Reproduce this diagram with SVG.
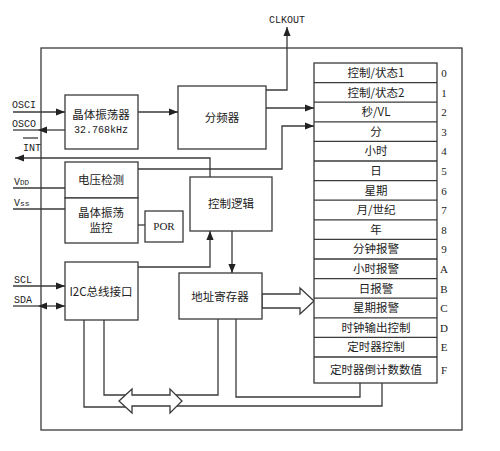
<svg xmlns="http://www.w3.org/2000/svg" width="500" height="451" viewBox="0 0 500 451">
<defs>
<marker id="ah" viewBox="0 0 10 8" refX="10" refY="4" markerWidth="9" markerHeight="8" markerUnits="userSpaceOnUse" orient="auto-start-reverse">
<path d="M0,0 L10,4 L0,8 Z" fill="#222"/>
</marker>
<style>
.b{fill:#fff;stroke:#3a3a3a;stroke-width:1.3}
.l{fill:none;stroke:#3a3a3a;stroke-width:1.3}
.cn{font-family:"Noto Sans CJK SC","Noto Sans",sans-serif;font-size:11.5px;fill:#222;text-anchor:middle}
.m{font-family:"Liberation Mono",monospace;font-size:10px;fill:#222}
.n{font-family:"Liberation Serif",serif;font-size:11px;fill:#222;text-anchor:middle}
</style>
</defs>
<rect width="500" height="451" fill="#fff"/>
<g id="chip"><rect x="41" y="48" width="421" height="382" class="b"/></g>

<g id="connectors">
<line x1="13" y1="112" x2="65" y2="112" class="l" marker-end="url(#ah)"/>
<line x1="65" y1="130" x2="38" y2="130" class="l" marker-end="url(#ah)"/>
<line x1="38" y1="130" x2="13" y2="130" class="l"/>
<line x1="138" y1="112" x2="178" y2="112" class="l" marker-end="url(#ah)"/>
<polyline points="266,90 287,90 287,27" class="l" marker-end="url(#ah)"/>
<line x1="266" y1="108" x2="314" y2="108" class="l" marker-end="url(#ah)"/>
<polyline points="138,169 282,169 282,126 314,126" class="l" marker-end="url(#ah)"/>
<polyline points="210,177 210,158 15,158" class="l" marker-end="url(#ah)"/>
<line x1="13" y1="188" x2="65" y2="188" class="l"/>
<line x1="13" y1="209" x2="65" y2="209" class="l"/>
<line x1="138" y1="225" x2="145" y2="225" class="l"/>
<polyline points="138,267 210,267 210,231" class="l" marker-end="url(#ah)"/>
<line x1="232" y1="231" x2="232" y2="273" class="l" marker-end="url(#ah)"/>
<line x1="13" y1="286" x2="65" y2="286" class="l" marker-end="url(#ah)"/>
<line x1="13" y1="306" x2="38" y2="306" class="l"/>
<line x1="38" y1="306" x2="65" y2="306" class="l" marker-start="url(#ah)" marker-end="url(#ah)"/>
<polygon points="262,294 300,294 300,288 314,301 300,314 300,308 262,308" class="b"/>
<polyline points="104,320 104,395 125.5,395" class="l"/>
<polyline points="218,319 218,395 176,395" class="l"/>
<polyline points="84,320 84,407 126,407" class="l"/>
<polyline points="177,406 382,406 382,383" class="l"/>
<polyline points="236,319 236,397 360,397 360,383" class="l"/>
<polygon points="119,401 132,389 132,395 170,395 170,389 182,401 170,413 170,406 132,406 132,413" class="b"/>
</g>

<g id="labels">
<text x="12" y="108" class="m">OSCI</text>
<text x="12" y="127" class="m">OSCO</text>
<text x="23" y="151" class="m">INT</text>
<line x1="23" y1="138" x2="38" y2="138" class="l" stroke-width="1"/>
<text x="14" y="185" class="m">V<tspan font-size="7.5">DD</tspan></text>
<text x="14" y="206" class="m">V<tspan font-size="8">ss</tspan></text>
<text x="14" y="283" class="m">SCL</text>
<text x="14" y="303" class="m">SDA</text>
<text x="287" y="23" class="m" text-anchor="middle">CLKOUT</text>
</g>

<g id="osc">
<rect x="65" y="95" width="73" height="54" class="b"/>
<text x="101" y="119" class="cn">晶体振荡器</text>
<text x="101" y="133" class="m" text-anchor="middle">32.768kHz</text>
</g>
<g id="divider">
<rect x="178" y="86" width="88" height="63" class="b"/>
<text x="222" y="122" class="cn">分频器</text>
</g>
<g id="vdetect">
<rect x="65" y="162" width="73" height="36" class="b"/>
<text x="101" y="184" class="cn">电压检测</text>
</g>
<g id="oscmon">
<rect x="65" y="198" width="73" height="45" class="b"/>
<text x="101" y="217" class="cn">晶体振荡</text>
<text x="101" y="232" class="cn">监控</text>
</g>
<g id="por">
<rect x="145" y="211" width="38" height="31" class="b"/>
<text x="164" y="230" class="n" font-size="10.5">POR</text>
</g>
<g id="ctrl">
<rect x="190" y="177" width="82" height="54" class="b"/>
<text x="231" y="208" class="cn">控制逻辑</text>
</g>
<g id="i2c">
<rect x="65" y="262" width="73" height="58" class="b"/>
<text x="101" y="296" class="cn">I2C总线接口</text>
</g>
<g id="addr">
<rect x="179" y="273" width="83" height="46" class="b"/>
<text x="220" y="301" class="cn">地址寄存器</text>
</g>

<g id="registers">
<rect x="314" y="63" width="123" height="320" class="b"/>
<g class="l">
<line x1="314" y1="82.6" x2="437" y2="82.6"/>
<line x1="314" y1="102.2" x2="437" y2="102.2"/>
<line x1="314" y1="121.8" x2="437" y2="121.8"/>
<line x1="314" y1="141.4" x2="437" y2="141.4"/>
<line x1="314" y1="161" x2="437" y2="161"/>
<line x1="314" y1="180.6" x2="437" y2="180.6"/>
<line x1="314" y1="200.2" x2="437" y2="200.2"/>
<line x1="314" y1="219.8" x2="437" y2="219.8"/>
<line x1="314" y1="239.4" x2="437" y2="239.4"/>
<line x1="314" y1="259" x2="437" y2="259"/>
<line x1="314" y1="278.6" x2="437" y2="278.6"/>
<line x1="314" y1="298.2" x2="437" y2="298.2"/>
<line x1="314" y1="317.8" x2="437" y2="317.8"/>
<line x1="314" y1="337.4" x2="437" y2="337.4"/>
<line x1="314" y1="357" x2="437" y2="357"/>
</g>
<text x="376" y="77" class="cn">控制/状态1</text>
<text x="376" y="96.6" class="cn">控制/状态2</text>
<text x="376" y="116.2" class="cn">秒/VL</text>
<text x="376" y="135.8" class="cn">分</text>
<text x="376" y="155.4" class="cn">小时</text>
<text x="376" y="175" class="cn">日</text>
<text x="376" y="194.6" class="cn">星期</text>
<text x="376" y="214.2" class="cn">月/世纪</text>
<text x="376" y="233.8" class="cn">年</text>
<text x="376" y="253.4" class="cn">分钟报警</text>
<text x="376" y="273" class="cn">小时报警</text>
<text x="376" y="292.6" class="cn">日报警</text>
<text x="376" y="312.2" class="cn">星期报警</text>
<text x="376" y="331.8" class="cn">时钟输出控制</text>
<text x="376" y="351.4" class="cn">定时器控制</text>
<text x="376" y="374" class="cn">定时器倒计数数值</text>
<text x="444" y="77" class="n">0</text>
<text x="444" y="96.6" class="n">1</text>
<text x="444" y="116.2" class="n">2</text>
<text x="444" y="135.8" class="n">3</text>
<text x="444" y="155.4" class="n">4</text>
<text x="444" y="175" class="n">5</text>
<text x="444" y="194.6" class="n">6</text>
<text x="444" y="214.2" class="n">7</text>
<text x="444" y="233.8" class="n">8</text>
<text x="444" y="253.4" class="n">9</text>
<text x="444" y="273" class="n">A</text>
<text x="444" y="292.6" class="n">B</text>
<text x="444" y="312.2" class="n">C</text>
<text x="444" y="331.8" class="n">D</text>
<text x="444" y="351.4" class="n">E</text>
<text x="444" y="374" class="n">F</text>
</g>
</svg>
